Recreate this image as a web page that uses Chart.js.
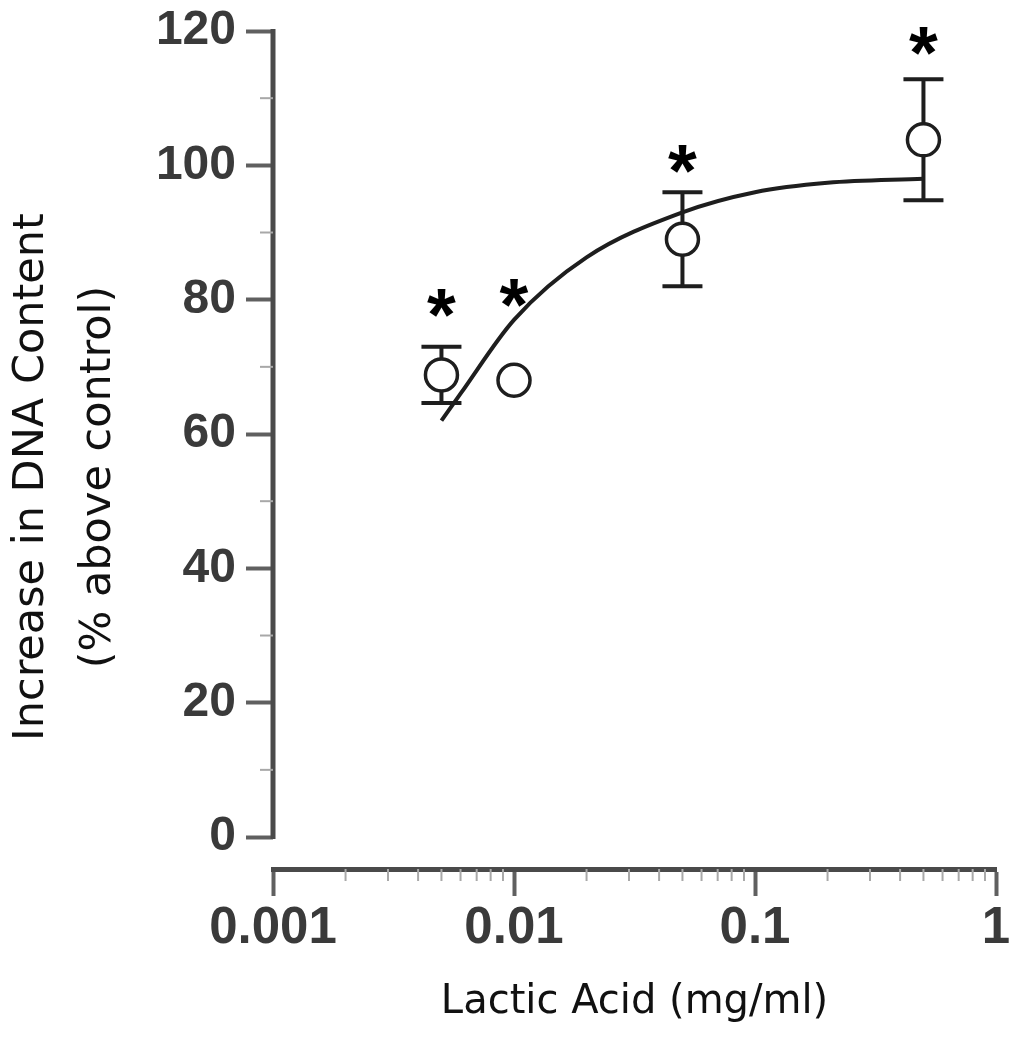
<!DOCTYPE html>
<html>
<head>
<meta charset="utf-8">
<title>Lactic acid - DNA content</title>
<script src="https://cdn.jsdelivr.net/npm/chart.js@4/dist/chart.umd.min.js"></script>
<style>
body { margin: 0; background: #fff; }
#wrap { width: 1026px; height: 1050px; }
</style>
</head>
<body>
<div id="wrap"><canvas id="dna-chart" width="1026" height="1050"></canvas></div>
<script>
// values
var conc = [0.005, 0.01, 0.05, 0.5]
var means = [68.8, 68, 89, 103.8]
var sem = [4.2, 0, 7, 9]
var starY = [79.5, 81, 101, 118.5]
var fitX = [0.005, 0.006, 0.01, 0.02, 0.05, 0.1, 0.2, 0.5]
var fitY = [62, 66, 77, 86.3, 93, 96, 97.4, 98]

var yTicks = [0, 20, 40, 60, 80, 100, 120]
var yTickLabels = ['0', '20', '40', '60', '80', '100', '120']
var yMinor = [10, 30, 50, 70, 90, 110]
var xTicks = [0.001, 0.01, 0.1, 1]
var xTickLabels = ['0.001', '0.01', '0.1', '1']
var xMinor = [0.002, 0.003, 0.004, 0.005, 0.006, 0.007, 0.008, 0.009,
	0.02, 0.03, 0.04, 0.05, 0.06, 0.07, 0.08, 0.09,
	0.2, 0.3, 0.4, 0.5, 0.6, 0.7, 0.8, 0.9]
var yTitle = ['Increase in DNA Content', '(% above control)']
var xTitle = 'Lactic Acid (mg/ml)'

var ink = '#1e1e1e'

// axis line, minor ticks, error bars
var decor = {
	id: 'decor',
	beforeDatasetsDraw: function (chart) {
		var ctx = chart.ctx, x = chart.scales.x, y = chart.scales.y
		var left = chart.chartArea.left, bottom = chart.chartArea.bottom
		ctx.save()
		// detached y axis line 0..120
		ctx.strokeStyle = '#4a4a4a'
		ctx.lineWidth = 5
		ctx.beginPath()
		ctx.moveTo(left, y.getPixelForValue(0) + 2)
		ctx.lineTo(left, y.getPixelForValue(120) - 2)
		ctx.stroke()
		ctx.strokeStyle = '#a8a8a8'
		ctx.lineWidth = 2
		yMinor.forEach(function (v) {
			var py = y.getPixelForValue(v)
			ctx.beginPath()
			ctx.moveTo(left - 13, py)
			ctx.lineTo(left, py)
			ctx.stroke()
		})
		xMinor.forEach(function (v) {
			var px = x.getPixelForValue(v)
			ctx.beginPath()
			ctx.moveTo(px, bottom)
			ctx.lineTo(px, bottom + 12)
			ctx.stroke()
		})
		// error bars
		ctx.strokeStyle = ink
		ctx.lineWidth = 4
		conc.forEach(function (c, i) {
			if (!sem[i]) return
			var px = x.getPixelForValue(c)
			var top = y.getPixelForValue(means[i] + sem[i])
			var bot = y.getPixelForValue(means[i] - sem[i])
			ctx.beginPath()
			ctx.moveTo(px, top); ctx.lineTo(px, bot)
			ctx.moveTo(px - 20, top); ctx.lineTo(px + 20, top)
			ctx.moveTo(px - 20, bot); ctx.lineTo(px + 20, bot)
			ctx.stroke()
		})
		ctx.restore()
	},
	afterDraw: function (chart) {
		var ctx = chart.ctx, x = chart.scales.x, y = chart.scales.y
		ctx.save()
		// significance stars
		ctx.fillStyle = '#000'
		ctx.font = 'bold 74px "Liberation Sans"'
		ctx.textAlign = 'center'
		ctx.textBaseline = 'alphabetic'
		var m = ctx.measureText('*')
		var shift = (m.actualBoundingBoxAscent - m.actualBoundingBoxDescent) / 2
		conc.forEach(function (c, i) {
			ctx.fillText('*', x.getPixelForValue(c), y.getPixelForValue(starY[i]) + shift)
		})
		// y title, two rotated lines
		ctx.fillStyle = '#111'
		ctx.font = '43px "DejaVu Sans"'
		var cy = 477
		ctx.translate(43, cy)
		ctx.rotate(-Math.PI / 2)
		ctx.fillText(yTitle[0], 0, 0)
		ctx.fillText(yTitle[1], 0, 67)
		ctx.restore()
	}
}

var ctx = document.getElementById('dna-chart')
var chart = new Chart(ctx, {
	type: 'scatter',
	data: {
		datasets: [
			{
				label: 'mean',
				data: conc.map(function (c, i) { return {x: c, y: means[i]} }),
				pointStyle: 'circle',
				pointRadius: 16,
				pointBorderWidth: 3.5,
				pointBorderColor: ink,
				pointBackgroundColor: '#fff',
				order: 0
			},
			{
				type: 'line',
				label: 'fit',
				data: fitX.map(function (v, i) { return {x: v, y: fitY[i]} }),
				borderColor: ink,
				borderWidth: 4,
				pointRadius: 0,
				fill: false,
				cubicInterpolationMode: 'monotone',
				order: 1
			}
		]
	},
	options: {
		responsive: false,
		animation: false,
		devicePixelRatio: 1,
		layout: { padding: { top: 31, right: 30, bottom: 0, left: 0 } },
		plugins: { legend: { display: false }, tooltip: { enabled: false } },
		scales: {
			x: {
				type: 'logarithmic',
				min: 0.001,
				max: 1,
				afterBuildTicks: function (s) { s.ticks = xTicks.map(function (v) { return {value: v} }) },
				afterFit: function (s) { s.height = 181 },
				border: { display: true, color: '#4a4a4a', width: 5 },
				grid: { drawOnChartArea: false, drawTicks: true, tickLength: 27, tickWidth: 4, tickColor: '#606060' },
				ticks: {
					autoSkip: false,
					maxRotation: 0,
					padding: 2,
					color: '#3a3a3a',
					font: { family: 'Liberation Sans', size: 51, weight: 'bold' },
					callback: function (v, i) { return xTickLabels[i] }
				},
				title: {
					display: true,
					text: xTitle,
					color: '#111',
					font: { family: 'DejaVu Sans', size: 40 },
					padding: { top: 0, bottom: 23 }
				}
			},
			y: {
				min: -4.76,
				max: 120,
				afterBuildTicks: function (s) { s.ticks = yTicks.map(function (v) { return {value: v} }) },
				afterFit: function (s) { s.width = 273; s.paddingTop = 0; s.paddingBottom = 0 },
				border: { display: false },
				grid: { drawOnChartArea: false, drawTicks: true, tickLength: 27, tickWidth: 4, tickColor: '#606060' },
				ticks: {
					padding: 10,
					color: '#3a3a3a',
					font: { family: 'Liberation Sans', size: 48, weight: 'bold', lineHeight: 0.9 },
					callback: function (v, i) { return yTickLabels[i] }
				}
			}
		}
	},
	plugins: [decor]
})
</script>
</body>
</html>
